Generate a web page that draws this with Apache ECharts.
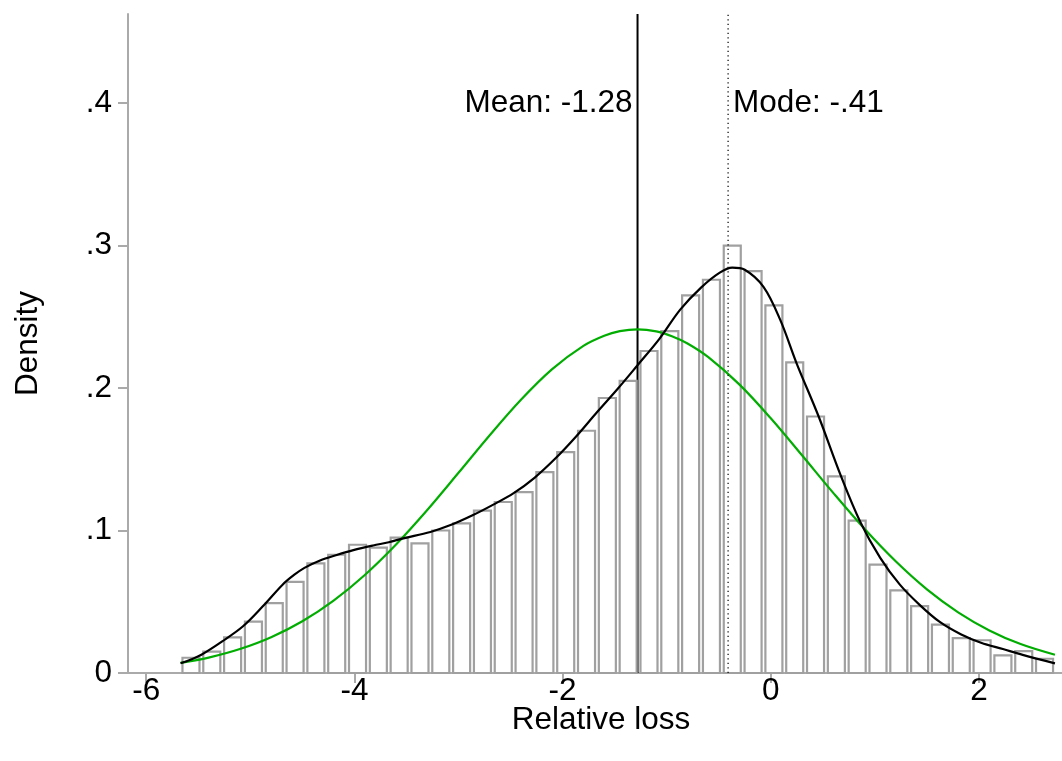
<!DOCTYPE html>
<html>
<head>
<meta charset="utf-8">
<script src="https://cdn.jsdelivr.net/npm/echarts@6/dist/echarts.min.js"></script>
<style>
  html, body { margin: 0; padding: 0; background: #fff; }
  #chart { width: 1062px; height: 761px; }
</style>
</head>
<body>
<div id="chart"></div>
<script>
// ---- Data ----
const binWidth = 0.2;
const binCenters = [-5.57,-5.37,-5.17,-4.97,-4.77,-4.57,-4.37,-4.17,-3.97,-3.77,-3.57,-3.37,-3.17,-2.97,-2.77,-2.57,-2.37,-2.17,-1.97,-1.77,-1.57,-1.37,-1.17,-0.97,-0.77,-0.57,-0.37,-0.17,0.03,0.23,0.43,0.63,0.83,1.03,1.23,1.43,1.63,1.83,2.03,2.23,2.43,2.63];
const binHeights = [0.0107,0.015,0.025,0.036,0.049,0.064,0.077,0.083,0.090,0.088,0.095,0.091,0.100,0.105,0.114,0.120,0.127,0.141,0.155,0.170,0.193,0.205,0.226,0.240,0.265,0.276,0.300,0.282,0.258,0.218,0.180,0.138,0.107,0.076,0.058,0.047,0.034,0.0245,0.023,0.0124,0.0153,0.010];

const kdeX = [-5.67,-5.57,-5.47,-5.27,-5.07,-4.88,-4.69,-4.58,-4.48,-4.33,-4.17,-4.01,-3.82,-3.67,-3.53,-3.27,-3.07,-2.87,-2.67,-2.47,-2.27,-2.07,-1.87,-1.67,-1.47,-1.28,-1.07,-0.87,-0.67,-0.49,-0.37,-0.25,-0.07,0.09,0.25,0.46,0.67,0.86,1.05,1.24,1.43,1.62,1.83,2.02,2.23,2.42,2.73];
const kdeY = [0.0068,0.0095,0.0128,0.0222,0.0328,0.0468,0.0620,0.0688,0.0738,0.0790,0.0828,0.0862,0.0895,0.0918,0.0945,0.0990,0.1040,0.1105,0.1180,0.1262,0.1370,0.1505,0.1660,0.1830,0.1995,0.2160,0.2345,0.2550,0.2705,0.2810,0.2845,0.2830,0.2710,0.2480,0.2170,0.1800,0.1390,0.1060,0.0810,0.0620,0.0478,0.0360,0.0270,0.0212,0.0168,0.0127,0.0068];

const normX = [-5.67,-5.4,-5.1,-4.8,-4.5,-4.2,-3.9,-3.6,-3.3,-3.0,-2.7,-2.4,-2.1,-1.8,-1.6,-1.45,-1.28,-1.1,-0.95,-0.8,-0.6,-0.3,0.0,0.3,0.6,0.9,1.2,1.5,1.8,2.1,2.4,2.73];
const normY = [0.0071,0.0108,0.0168,0.0251,0.0363,0.0508,0.0688,0.0902,0.1144,0.1405,0.1669,0.1918,0.2133,0.2296,0.2367,0.2399,0.2412,0.2398,0.2364,0.2313,0.2217,0.2024,0.1788,0.1528,0.1264,0.1012,0.0784,0.0587,0.0426,0.0299,0.0203,0.0128];

const meanValue = -1.28;
const modeValue = -0.41;
const meanLabel = 'Mean: -1.28';
const modeLabel = 'Mode: -.41';
const labelY = 0.4;

const xTicks = [-6, -4, -2, 0, 2];
const yTicks = [0, 0.1, 0.2, 0.3, 0.4];
const yTickLabels = ['0', '.1', '.2', '.3', '.4'];
const yMax = 0.4625;

// ---- Chart ----
const FONT = "'Liberation Sans', Arial, Helvetica, sans-serif";
const FS = 31.5;
const AXIS_GRAY = '#aaaaaa';
const BAR_GRAY = '#a0a0a0';

const chart = echarts.init(document.getElementById('chart'), null, { renderer: 'canvas' });

const barData = binCenters.map((c, i) => [c, binHeights[i]]);
const kdeData = kdeX.map((x, i) => [x, kdeY[i]]);
const normData = normX.map((x, i) => [x, normY[i]]);

function renderBar(params, api) {
  const c = api.value(0);
  const h = api.value(1);
  const tl = api.coord([c - binWidth / 2, h]);
  const br = api.coord([c + binWidth / 2, 0]);
  const inset = 1.9;
  return {
    type: 'rect',
    shape: { x: tl[0] + inset, y: tl[1], width: (br[0] - tl[0]) - 2 * inset, height: br[1] - tl[1] },
    style: { fill: '#ffffff', stroke: BAR_GRAY, lineWidth: 2.2 }
  };
}

const option = {
  backgroundColor: '#ffffff',
  animation: false,
  textStyle: { fontFamily: FONT },
  grid: { left: 128, right: -12, top: 14, bottom: 88, containLabel: false, outerBoundsMode: 'none' },
  xAxis: {
    type: 'value',
    min: -6.175,
    max: 2.913,
    name: 'Relative loss',
    nameLocation: 'middle',
    nameGap: 31,
    nameMoveOverlap: false,
    nameTextStyle: { fontSize: FS, color: '#000', fontFamily: FONT },
    axisLine: { show: true, onZero: false, lineStyle: { color: AXIS_GRAY, width: 2 } },
    axisTick: { show: true, length: 10, lineStyle: { color: AXIS_GRAY, width: 2 }, customValues: xTicks },
    axisLabel: { fontSize: FS, color: '#000', margin: 2, fontFamily: FONT, customValues: xTicks,
      formatter: v => String(v) },
    splitLine: { show: false }
  },
  yAxis: {
    type: 'value',
    min: 0,
    max: yMax,
    name: 'Density',
    nameLocation: 'middle',
    nameGap: 84,
    nameMoveOverlap: false,
    nameTextStyle: { fontSize: FS, color: '#000', fontFamily: FONT },
    axisLine: { show: true, onZero: false, lineStyle: { color: AXIS_GRAY, width: 2 } },
    axisTick: { show: true, length: 10, lineStyle: { color: AXIS_GRAY, width: 2 }, customValues: yTicks },
    axisLabel: { fontSize: FS, color: '#000', margin: 16, fontFamily: FONT, customValues: yTicks,
      formatter: v => { const i = yTicks.findIndex(t => Math.abs(t - v) < 1e-9); return i >= 0 ? yTickLabels[i] : ''; } },
    splitLine: { show: false }
  },
  series: [
    {
      name: 'meanLine',
      type: 'line',
      z: 1,
      symbol: 'none',
      silent: true,
      data: [[meanValue, 0], [meanValue, yMax]],
      lineStyle: { color: '#000', width: 2, type: 'solid' }
    },
    {
      name: 'hist',
      type: 'custom',
      z: 2,
      renderItem: renderBar,
      data: barData,
      encode: { x: 0, y: 1 }
    },
    {
      name: 'normal',
      type: 'line',
      z: 3,
      data: normData,
      smooth: 0.35,
      symbol: 'none',
      lineStyle: { color: '#00ad00', width: 2.2 }
    },
    {
      name: 'kde',
      type: 'line',
      z: 4,
      data: kdeData,
      smooth: 0.35,
      symbol: 'none',
      lineStyle: { color: '#000', width: 2.2 }
    },
    {
      name: 'modeLine',
      type: 'line',
      z: 5,
      symbol: 'none',
      silent: true,
      data: [[modeValue, 0], [modeValue, yMax]],
      lineStyle: { color: '#111', width: 1.3, type: [1.3, 3.2] }
    },
    {
      name: 'labels',
      type: 'scatter',
      z: 6,
      symbolSize: 0,
      silent: true,
      itemStyle: { opacity: 1 },
      data: [
        { value: [meanValue, labelY], label: { show: true, position: 'left', distance: 5, formatter: meanLabel, color: '#000', opacity: 1, fontSize: FS, fontFamily: FONT } },
        { value: [modeValue, labelY], label: { show: true, position: 'right', distance: 5, formatter: modeLabel, color: '#000', opacity: 1, fontSize: FS, fontFamily: FONT } }
      ]
    }
  ]
};

chart.setOption(option);
</script>
</body>
</html>
